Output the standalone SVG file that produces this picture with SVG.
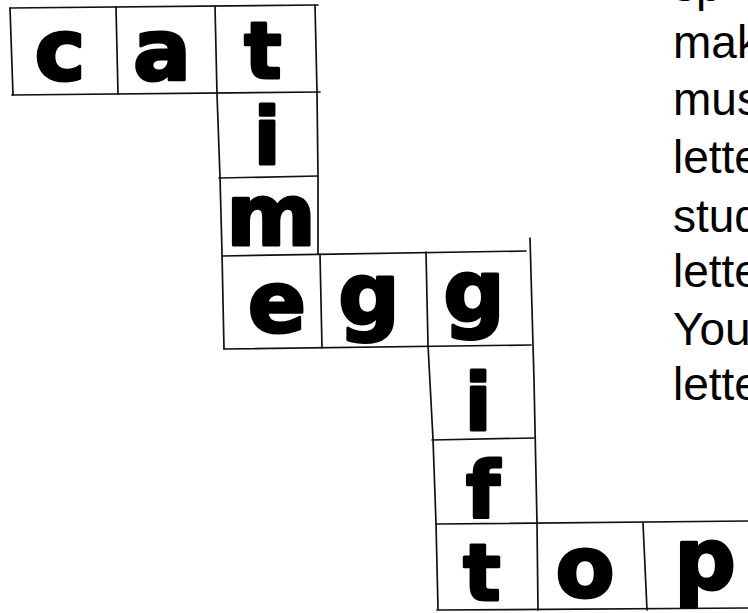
<svg xmlns="http://www.w3.org/2000/svg" width="748" height="613" viewBox="0 0 748 613">
<style>
.ln{fill:none;stroke:#111;stroke-width:1.7;stroke-linecap:round;stroke-linejoin:round}
.lt{font-family:"DejaVu Sans","Liberation Sans",sans-serif;font-weight:bold;font-size:86px;fill:#000;stroke:#000;stroke-width:3;stroke-linejoin:round;text-anchor:middle}
.asc{font-size:78px}
.tx{font-family:"Liberation Sans",Arial,sans-serif;font-size:46px;fill:#000}
</style>
<rect width="748" height="613" fill="#fff"/>
<g id="grid">
<polyline class="ln" points="10,8 318,5"/>
<polyline class="ln" points="12,95 320,92"/>
<polyline class="ln" points="10,8 13,95"/>
<polyline class="ln" points="116,7 118,94"/>
<polyline class="ln" points="215,6 217,94 220,177 222,253 224,349"/>
<polyline class="ln" points="315,5 317,92 318,177 318,254"/>
<polyline class="ln" points="219,178 318,176"/>
<polyline class="ln" points="222,256 526,251"/>
<polyline class="ln" points="224,349 531,345"/>
<polyline class="ln" points="320,254 322,348"/>
<polyline class="ln" points="426,252 428,345 433,439 436,523 438,609"/>
<polyline class="ln" points="530,238 534,380 537,523 538,610"/>
<polyline class="ln" points="432,440 534,438"/>
<polyline class="ln" points="436,524 748,521"/>
<polyline class="ln" points="437,610 748,608"/>
<polyline class="ln" points="643,523 647,610"/>
</g>
<g id="n-c"><text class="lt" x="60" y="80">c</text></g>
<g id="n-a"><text class="lt" x="162" y="80">a</text></g>
<g id="n-t1"><text class="lt asc" x="263" y="78">t</text></g>
<g id="n-i1"><text class="lt asc" x="267" y="164">i</text></g>
<g id="n-m"><text class="lt" x="271" y="245">m</text></g>
<g id="n-e"><text class="lt" x="277" y="332">e</text></g>
<g id="n-g1"><text class="lt" x="369" y="324">g</text></g>
<g id="n-g2"><text class="lt" x="474" y="321">g</text></g>
<g id="n-i2"><text class="lt asc" x="478" y="430">i</text></g>
<g id="n-f"><text class="lt asc" x="483" y="518">f</text></g>
<g id="n-t2"><text class="lt asc" x="482" y="600">t</text></g>
<g id="n-o"><text class="lt" x="585" y="597">o</text></g>
<g id="n-p"><text class="lt" x="705" y="589">p</text></g>
<g id="instructions">
<text class="tx" x="673" y="1">sp</text>
<text class="tx" x="673" y="58">mak</text>
<text class="tx" x="673" y="115">mus</text>
<text class="tx" x="673" y="173">lette</text>
<text class="tx" x="673" y="232">stud</text>
<text class="tx" x="673" y="287">lette</text>
<text class="tx" x="673" y="345">You</text>
<text class="tx" x="673" y="400">lette</text>
</g>
</svg>
